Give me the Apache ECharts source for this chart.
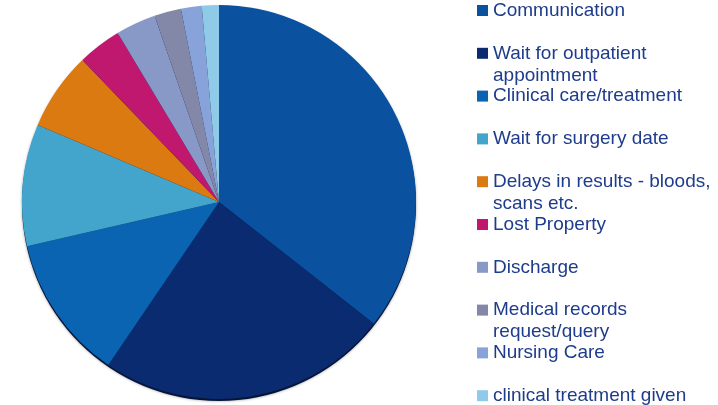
<!DOCTYPE html>
<html>
<head>
<meta charset="utf-8">
<script src="https://cdn.jsdelivr.net/npm/echarts@6/dist/echarts.min.js"></script>
<style>
  html, body { margin: 0; padding: 0; background: #fff; }
  #main { width: 718px; height: 405px; }
</style>
</head>
<body>
<div id="main"></div>
<script>
// complaint categories, clockwise from 12 o'clock
const categories = [
  'Communication',
  'Wait for outpatient\nappointment',
  'Clinical care/treatment',
  'Wait for surgery date',
  'Delays in results - bloods,\nscans etc.',
  'Lost Property',
  'Discharge',
  'Medical records\nrequest/query',
  'Nursing Care',
  'clinical treatment given'
];
// share of complaints (%)
const values = [35.6, 23.9, 11.9, 10.0, 6.4, 3.6, 3.3, 2.2, 1.7, 1.4];

const palette = [
  '#0a51a0', '#0a2b6f', '#0b64b1', '#43a4cc', '#da7a10',
  '#c1186f', '#8899c8', '#8388a8', '#88a2da', '#8fcbe8'
];

const chart = echarts.init(document.getElementById('main'));

// one legend block per entry so the rows keep an even spacing;
// two-line names get a blank line on top so the marker sits on line one
const legends = categories.map((name, i) => {
  const twoLines = name.indexOf('\n') >= 0;
  const mid = 10.5 + i * 42.8;
  return {
    orient: 'vertical',
    left: 477,
    top: twoLines ? mid - 33 : mid - 11,
    padding: 0,
    itemWidth: 11,
    itemHeight: 11,
    icon: 'rect',
    selectedMode: false,
    data: [name],
    formatter: n => (n.indexOf('\n') >= 0 ? ' \n' + n : n),
    textStyle: {
      fontFamily: 'Liberation Sans',
      fontSize: 19,
      lineHeight: 22,
      color: '#1e3c8c'
    }
  };
});

chart.setOption({
  animation: false,
  color: palette,
  legend: legends,
  series: [
    {
      // dark rim under the pie
      type: 'pie',
      silent: true,
      z: 1,
      center: [219, 204],
      radius: 197,
      label: { show: false },
      legendHoverLink: false,
      itemStyle: { color: '#051538', shadowBlur: 3, shadowColor: 'rgba(0,0,0,0.4)' },
      data: [{ value: 1, name: '' }]
    },
    {
      type: 'pie',
      z: 2,
      center: [219, 202],
      radius: 197,
      startAngle: 90,
      clockwise: true,
      label: { show: false },
      labelLine: { show: false },
      itemStyle: { borderWidth: 0 },
      data: categories.map((name, i) => ({ name, value: values[i] }))
    }
  ]
});
</script>
</body>
</html>
